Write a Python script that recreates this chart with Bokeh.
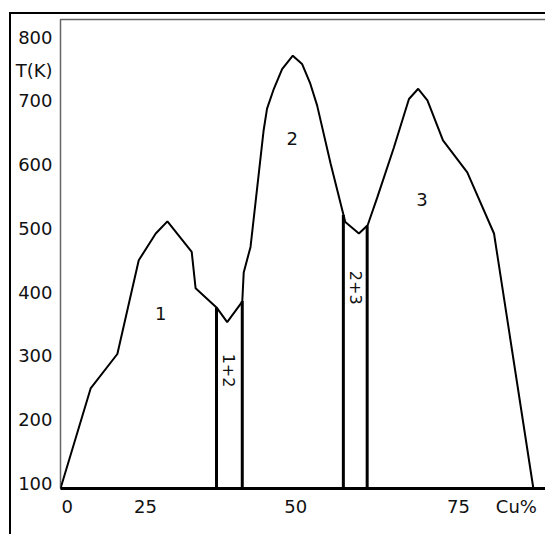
import numpy as np
from bokeh.plotting import figure
from bokeh.models import (FixedTicker, CustomJSTickFormatter, Range1d,
                          ColumnDataSource)
from bokeh.core.properties import value
from bokeh.embed import file_html
from bokeh.resources import INLINE

# ---- data ----
# liquidus-like curve: composition (Cu %) and temperature (K)
cu = [0.0, 6.2, 11.7, 16.1, 19.6, 22.0, 27.0, 27.8, 32.1, 34.3, 37.4, 37.7,
      39.1, 41.8, 42.5, 43.9, 45.6, 47.8, 49.7, 51.4, 52.8, 55.6, 58.0, 58.6,
      61.4, 63.2, 65.2, 68.6, 71.7, 73.6, 75.5, 78.7, 83.7, 89.2, 97.3]
temp = [92, 249, 303, 450, 492, 511, 463, 406, 376, 353, 385, 431,
        471, 654, 688, 719, 750, 771, 758, 727, 693, 601, 528, 510,
        492, 505, 549, 627, 703, 719, 701, 638, 588, 492, 92]

# two-phase boundaries (vertical lines)
bound_cu = [32.1, 37.4, 58.2, 63.1]
bound_top = [376, 386, 521, 504]

# region labels
region_text = ["1", "2", "3"]
region_cu = [20.6, 47.7, 74.4]
region_t = [366, 641, 545]

mix_text = ["1+2", "2+3"]
mix_cu = [34.7, 60.7]
mix_t = [277, 407]

# axis ticks
y_ticks = [100, 200, 300, 400, 500, 600, 700, 748, 800]
y_labels = ["100", "200", "300", "400", "500", "600", "700", "T(K)", "800"]
x_ticks = [1.4, 17.5, 48.4, 81.9, 93.8]
x_labels = ["0", "25", "50", "75", "Cu%"]

T_LO, T_HI = 92, 827.7
X_LO, X_HI = 0, 100

FONT = "DejaVu Sans"

p = figure(width=536, height=522, output_backend="svg", toolbar_location=None,
           x_range=Range1d(X_LO, X_HI), y_range=Range1d(T_LO, T_HI),
           min_border_left=49, min_border_right=1, min_border_top=5,
           min_border_bottom=48, background_fill_color="white",
           border_fill_color="white")

# outer black frame (top and left edges) drawn by the page around the figure
p.margin = (12, 0, 0, 9)
p.styles = {"border-top": "2px solid #000000",
            "border-left": "2px solid #000000"}

p.grid.visible = False
p.outline_line_color = "#666666"
p.outline_line_width = 1.5

# x axis
p.xaxis.ticker = FixedTicker(ticks=x_ticks)
p.xaxis.formatter = CustomJSTickFormatter(args=dict(labels=x_labels),
                                          code="return labels[index]")
p.xaxis.axis_line_width = 3
p.xaxis.axis_line_color = "black"
p.xaxis.major_tick_line_color = None
p.xaxis.minor_tick_line_color = None
p.xaxis.major_tick_out = 0
p.xaxis.major_tick_in = 0
p.xaxis.minor_tick_out = 0
p.xaxis.minor_tick_in = 0
p.xaxis.major_label_standoff = 7
p.xaxis.major_label_text_font = FONT
p.xaxis.major_label_text_font_size = "18px"
p.xaxis.major_label_text_color = "#111111"

# y axis
p.yaxis.ticker = FixedTicker(ticks=y_ticks)
p.yaxis.formatter = CustomJSTickFormatter(args=dict(labels=y_labels),
                                          code="return labels[index]")
p.yaxis.axis_line_color = None
p.yaxis.major_tick_line_color = None
p.yaxis.minor_tick_line_color = None
p.yaxis.major_tick_out = 0
p.yaxis.major_tick_in = 0
p.yaxis.minor_tick_out = 0
p.yaxis.minor_tick_in = 0
p.yaxis.major_label_standoff = 8
p.yaxis.major_label_text_font = FONT
p.yaxis.major_label_text_font_size = "18px"
p.yaxis.major_label_text_color = "#111111"

# curve
p.line(cu, temp, line_color="black", line_width=2)

# boundary lines
src_b = ColumnDataSource(dict(x=bound_cu, top=bound_top,
                              bot=[T_LO] * len(bound_cu)))
p.segment(x0="x", y0="bot", x1="x", y1="top", source=src_b,
          line_color="black", line_width=3)

# labels
p.text(x=region_cu, y=region_t, text=region_text, text_font=value(FONT),
       text_font_size=value("18px"), text_align="center",
       text_baseline="middle", text_color="#111111")
p.text(x=mix_cu, y=mix_t, text=mix_text, text_font=value(FONT),
       text_font_size=value("16px"), text_align="center",
       text_baseline="middle", angle=-np.pi / 2, text_color="#111111")

open("out.html", "w").write(file_html(p, INLINE))
